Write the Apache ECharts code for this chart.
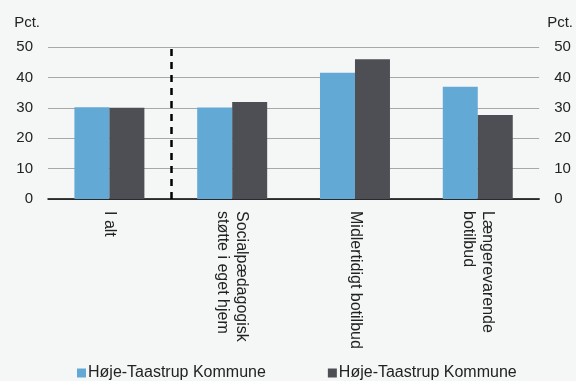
<!DOCTYPE html>
<html>
<head>
<meta charset="utf-8">
<script src="https://cdn.jsdelivr.net/npm/echarts@6/dist/echarts.min.js"></script>
<style>
html,body{margin:0;padding:0;background:#f5f7f7;}
#chart{width:576px;height:381px;}
</style>
</head>
<body>
<div id="chart"></div>
<script>
var categories = ['I alt', 'Socialpædagogisk\nstøtte i eget hjem', 'Midlertidigt botilbud', 'Længerevarende\nbotilbud'];
var seriesNames = ['Høje-Taastrup Kommune', 'Høje-Taastrup Kommune '];
var seriesA = [30.2, 30.1, 41.5, 36.9];
var seriesB = [30.0, 31.9, 46.0, 27.6];
var yTicks = {min: 0, max: 50, interval: 10};
var dividerAt = [1];

var font = 'Liberation Sans, Arial, sans-serif';
var chart = echarts.init(document.getElementById('chart'));
chart.setOption({
  backgroundColor: '#f5f7f7',
  animation: false,
  textStyle: {fontFamily: font},
  grid: {left: 48, right: 36, top: 47, bottom: 182},
  legend: {
    bottom: -5,
    left: 72,
    itemWidth: 9, itemHeight: 9,
    itemGap: 62,
    icon: 'rect',
    textStyle: {fontSize: 16, color: '#222', fontFamily: font, padding: [0,0,0,-3]},
    data: seriesNames
  },
  xAxis: [{
    type: 'category',
    data: categories,
    axisLine: {lineStyle: {color: '#000', width: 1.5}},
    axisTick: {length: 4, lineStyle: {color: '#000', width: 1.5}},
    axisLabel: {rotate: -90, fontSize: 16, color: '#222', margin: 12, fontFamily: font, lineHeight: 19}
  }, {
    type: 'value', min: 0, max: 4, show: false
  }],
  yAxis: [{
    type: 'value', min: yTicks.min, max: yTicks.max, interval: yTicks.interval,
    name: 'Pct.', nameLocation: 'end', nameGap: 17,
    nameTextStyle: {align: 'right', padding: [0, 8, 0, 0], fontSize: 15, color: '#222', fontFamily: font},
    axisLine: {show: false}, axisTick: {show: false},
    axisLabel: {fontSize: 15, color: '#222', margin: 15, fontFamily: font},
    splitLine: {lineStyle: {color: '#a8a8a8', width: 1}}
  }, {
    type: 'value', min: yTicks.min, max: yTicks.max, interval: yTicks.interval,
    position: 'right',
    name: 'Pct.', nameLocation: 'end', nameGap: 17,
    nameTextStyle: {align: 'left', padding: [0, 0, 0, 8], fontSize: 15, color: '#222', fontFamily: font},
    axisLine: {show: false}, axisTick: {show: false},
    axisLabel: {fontSize: 15, color: '#222', margin: 15, fontFamily: font},
    splitLine: {show: false}
  }],
  series: [{
    name: seriesNames[0], type: 'bar', data: seriesA,
    barGap: '0%', barCategoryGap: '43%',
    itemStyle: {color: '#63a9d5'}
  }, {
    name: seriesNames[1], type: 'bar', data: seriesB,
    itemStyle: {color: '#4e4f54'}
  }, {
    type: 'line', xAxisIndex: 1, yAxisIndex: 0, data: [],
    markLine: {
      symbol: 'none', silent: true,
      label: {show: false},
      lineStyle: {color: '#000', type: [7, 6], width: 2.5},
      data: dividerAt.map(function (v) { return {xAxis: v}; })
    }
  }]
});
</script>
</body>
</html>
